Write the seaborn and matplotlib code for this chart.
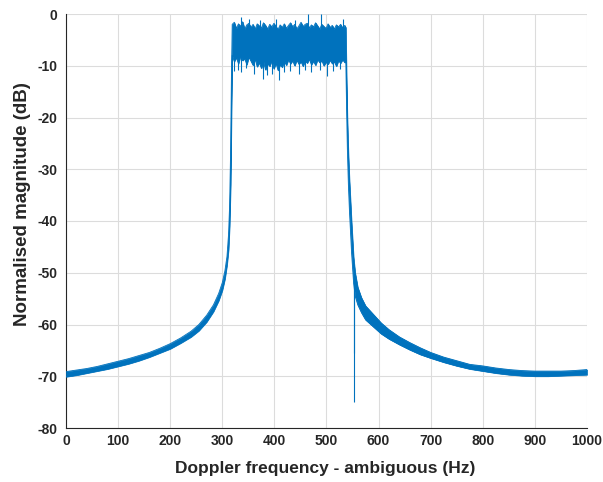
import matplotlib
matplotlib.use("Agg")
import matplotlib.pyplot as plt
import seaborn as sns

# ---- data ----
freq_hz = [0, 20, 40, 60, 80, 100, 120, 140, 160, 180, 200, 220, 240, 255, 270, 283, 293, 300, 305, 309,
           312, 314, 316, 317.5,
           319, 323, 327, 331, 335, 339, 343, 347, 351, 355, 359, 363, 367, 371, 375, 379, 383, 387, 391,
           395, 399, 403, 407, 411, 415, 419, 423, 427, 431, 435, 439, 443, 447, 451, 455, 459, 463, 467,
           471, 475, 479, 483, 487, 491, 495, 499, 503, 507, 511, 515, 519, 523, 527, 531, 535,
           537, 538.5, 540, 542, 544, 546, 548, 550, 552, 555, 560, 567, 575, 585, 595, 605, 620, 640, 660,
           680, 700, 725, 750, 775, 800, 825, 850, 875, 900, 925, 950, 975, 1000]

upper_db = [-69.1, -68.8, -68.5, -68.1, -67.6, -67.1, -66.6, -66.0, -65.4, -64.6, -63.7, -62.6, -61.3,
            -60.0, -58.2, -56.2, -54.0, -51.9, -49.6, -46.8,
            -42.5, -37.0, -26.0, -12.0,
            -2.0, -1.6, -2.8, -1.9, -2.4, -1.5, -2.9, -2.1, -1.8, -2.6, -2.0, -2.9, -1.9, -2.3, -2.7, -1.7,
            -2.2, -2.9, -2.0, -2.5, -1.8, -2.4, -3.0, -2.1, -2.6, -1.9, -2.8, -2.2, -1.7, -2.5, -2.0, -2.9,
            -2.3, -1.6, -2.4, -2.0, -1.8, -2.7, -2.1, -2.5, -1.7, -2.3, -2.9, -2.0, -2.4, -2.8, -1.9, -2.6,
            -2.2, -2.9, -2.1, -2.5, -2.0, -2.7, -2.2,
            -2.6, -12.0, -20.0, -27.0, -32.0, -36.0, -40.0, -43.5, -47.0, -50.0, -52.8, -54.8, -56.4, -57.5,
            -58.6, -59.7, -61.0, -62.4, -63.5, -64.5, -65.4, -66.3, -67.0, -67.7, -68.0, -68.4, -68.7, -68.9,
            -69.0, -69.0, -69.0, -68.9, -68.7]

lower_db = [-70.1, -69.8, -69.4, -69.0, -68.6, -68.1, -67.6, -67.0, -66.3, -65.5, -64.7, -63.6, -62.4,
            -61.2, -59.5, -57.5, -55.4, -53.4, -51.2, -48.5,
            -45.5, -41.0, -33.0, -20.0,
            -8.0, -9.2, -8.4, -9.6, -8.1, -9.0, -8.6, -9.8, -8.3, -9.1, -9.9, -8.7, -10.2, -9.4, -10.5, -9.2,
            -10.8, -9.6, -10.1, -9.0, -10.6, -9.5, -10.9, -9.8, -10.3, -9.1, -9.9, -8.8, -9.6, -9.0, -10.0,
            -8.9, -9.7, -9.2, -10.1, -9.0, -9.5, -8.7, -9.8, -9.1, -9.9, -8.8, -9.4, -9.0, -10.0, -9.3, -9.7,
            -8.9, -9.6, -9.2, -10.1, -9.0, -9.5, -8.8, -9.4,
            -9.0, -18.0, -26.0, -33.0, -38.0, -42.0, -46.0, -49.0, -52.0, -54.5, -56.2, -57.7, -59.1, -60.0,
            -60.9, -61.8, -62.8, -63.9, -64.9, -65.8, -66.5, -67.3, -68.0, -68.6, -69.0, -69.4, -69.7, -69.9,
            -70.0, -70.0, -69.9, -69.8, -69.7]

# isolated spikes (thin vertical excursions)
spike_hz = [322, 330, 336, 345, 360, 378, 385, 395, 409, 418, 430, 447, 458, 470, 487, 501, 512, 525,
            336, 352, 372, 404, 440, 464, 489, 532, 552, 553.5]
spike_top_db = [-6, -6, -6, -6, -6, -6, -6, -6, -6, -6, -6, -6, -6, -6, -6, -6, -6, -6,
                -4, -4, -4, -4, -4, -4, -4, -4, -50, -51]
spike_bottom_db = [-11.0, -10.8, -11.2, -10.5, -11.5, -12.6, -11.8, -11.5, -12.8, -11.3, -11.0, -11.6,
                   -10.9, -11.2, -10.8, -12.0, -11.0, -10.7,
                   -0.6, -1.0, -1.1, -0.9, -1.2, 0.0, 0.0, -1.0, -65.5, -75.0]

x_ticks = [0, 100, 200, 300, 400, 500, 600, 700, 800, 900, 1000]
y_ticks = [-80, -70, -60, -50, -40, -30, -20, -10, 0]

LINE = "#0072BD"
AX = "#262626"

sns.set_style("white")
plt.rcParams["font.family"] = ["Liberation Sans", "DejaVu Sans"]

fig = plt.figure(figsize=(6.03, 4.82), dpi=100)
ax = fig.add_axes([66 / 603, 1 - 428 / 482, 521 / 603, 414 / 482])

ax.fill_between(freq_hz, lower_db, upper_db, color=LINE, linewidth=0.5, edgecolor=LINE, zorder=3)
sns.lineplot(x=freq_hz, y=upper_db, ax=ax, color=LINE, linewidth=0.6, zorder=3)
sns.lineplot(x=freq_hz, y=lower_db, ax=ax, color=LINE, linewidth=0.6, zorder=3)
ax.vlines(spike_hz, spike_bottom_db, spike_top_db, color=LINE, linewidth=0.8, zorder=3)

ax.set_xlim(0, 1000)
ax.set_ylim(-80, 0)
ax.set_xticks(x_ticks)
ax.set_yticks(y_ticks)
ax.set_xticklabels([str(v) for v in x_ticks])
ax.set_yticklabels([str(v) for v in y_ticks])

ax.grid(True, color="#dcdcdc", linewidth=0.8)
ax.set_axisbelow(True)

for s in ["top", "right"]:
    ax.spines[s].set_visible(False)
for s in ["left", "bottom"]:
    ax.spines[s].set_color(AX)
    ax.spines[s].set_linewidth(0.8)

ax.tick_params(direction="in", length=4, width=0.8, color=AX, labelcolor=AX,
               labelsize=10)
ax.tick_params(axis="y", pad=6)
ax.tick_params(axis="x", pad=4)
for lab in ax.get_xticklabels() + ax.get_yticklabels():
    lab.set_fontweight("bold")

ax.set_xlabel("Doppler frequency - ambiguous (Hz)", fontsize=12.5, fontweight="bold", color=AX)
ax.set_ylabel("Normalised magnitude (dB)", fontsize=13.5, fontweight="bold", color=AX)
ax.xaxis.set_label_coords(0.497, -0.08)
ax.yaxis.set_label_coords(-0.068, 0.54)

fig.savefig("out.png", dpi=100)
